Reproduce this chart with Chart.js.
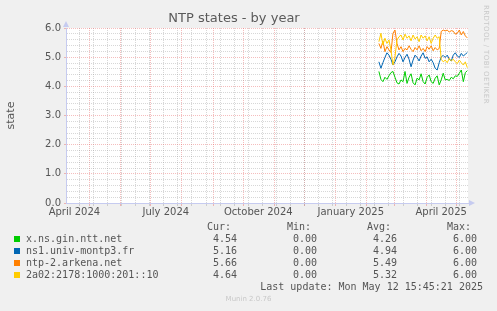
<!DOCTYPE html>
<html>
<head>
<meta charset="utf-8">
<script src="https://cdn.jsdelivr.net/npm/chart.js@4.4.1/dist/chart.umd.min.js"></script>
<style>
  body { margin: 0; background: #f0f0f0; }
  #wrap { position: relative; width: 497px; height: 311px; }
  #legend { position: absolute; left: 0; top: 0; font-family: "DejaVu Sans Mono", monospace; font-size: 10px; color: #555; }
  #legend div { position: absolute; white-space: pre; line-height: 12px; }
  .sw { position: absolute; width: 6px; height: 6px; }
  #rrd { position: absolute; left: 482px; top: 5px; font-family: "DejaVu Sans", sans-serif; font-size: 7px; color: #c8c8c8; writing-mode: vertical-rl; letter-spacing: 0.4px; }
  #munin { position: absolute; left: 0; width: 497px; top: 295px; text-align: center; font-family: "DejaVu Sans", sans-serif; font-size: 7px; color: #c8c8c8; }
</style>
</head>
<body>
<div id="wrap">
  <canvas id="ntpChart" width="497" height="311"></canvas>
  <div id="legend"></div>
  <div id="rrd">RRDTOOL / TOBI OETIKER</div>
  <div id="munin">Munin 2.0.76</div>
</div>
<script>
// graph window: 400 days ending at last update
const rangeStart = Date.UTC(2024, 3, 7, 15, 45);
const rangeDays = 400;
const firstSample = "2025-02-13";
const sampleStepDays = 2;

const seriesNames = ["x.ns.gin.ntt.net", "ns1.univ-montp3.fr", "ntp-2.arkena.net", "2a02:2178:1000:201::10"];
const seriesColors = ["#00cc00", "#0066b3", "#ff8000", "#ffcc00"];

const ginNtt = [4.51, 4.24, 4.16, 4.31, 4.24, 4.36, 4.47, 4.51, 4.31, 4.12, 4.08, 4.22, 4.16, 4.51, 4.10,
  4.31, 4.43, 4.12, 4.05, 4.28, 4.22, 4.43, 4.16, 4.08, 4.31, 4.39, 4.16, 4.10, 4.28, 4.36,
  4.05, 4.22, 4.45, 4.22, 4.24, 4.20, 4.31, 4.26, 4.36, 4.34, 4.45, 4.56, 4.16, 4.47, 4.54];
const univMontp3 = [4.84, 4.62, 4.81, 4.99, 5.15, 5.07, 4.93, 4.73, 4.84, 5.01, 5.13, 5.04, 4.84, 4.99, 5.10,
  4.93, 4.67, 4.90, 5.07, 4.99, 4.87, 5.04, 5.15, 4.96, 5.01, 4.84, 4.93, 4.81, 4.62, 4.56,
  4.81, 5.01, 5.06, 4.99, 5.07, 4.93, 4.87, 5.07, 5.15, 5.04, 4.99, 5.13, 5.04, 5.10, 5.16];
const arkena = [5.47, 5.30, 5.56, 5.19, 5.36, 5.25, 5.16, 5.82, 5.93, 5.47, 5.25, 5.36, 5.19, 5.30, 5.25,
  5.39, 5.27, 5.19, 5.33, 5.25, 5.39, 5.22, 5.30, 5.19, 5.36, 5.27, 5.39, 5.22, 5.33, 5.25,
  5.30, 5.88, 5.93, 5.90, 5.93, 5.86, 5.91, 5.89, 5.79, 5.82, 5.93, 5.76, 5.88, 5.73, 5.66];
const ipv6Peer = [5.53, 5.82, 5.42, 5.65, 5.47, 5.59, 5.25, 4.73, 5.01, 5.59, 5.70, 5.76, 5.59, 5.79, 5.65,
  5.73, 5.56, 5.76, 5.62, 5.70, 5.53, 5.76, 5.65, 5.73, 5.56, 5.70, 5.47, 5.65, 5.76, 5.65,
  5.70, 4.93, 4.84, 4.90, 4.81, 4.96, 4.87, 4.93, 4.84, 4.78, 4.90, 4.81, 4.73, 4.84, 4.64];

const legendCur = ["4.54", "5.16", "5.66", "4.64"];
const legendMin = ["0.00", "0.00", "0.00", "0.00"];
const legendAvg = ["4.26", "4.94", "5.49", "5.32"];
const legendMax = ["6.00", "6.00", "6.00", "6.00"];
const lastUpdate = "Last update: Mon May 12 15:45:21 2025";

const xLabelMonths = [[2024, 3, "April 2024"], [2024, 6, "July 2024"], [2024, 9, "October 2024"], [2025, 0, "January 2025"], [2025, 3, "April 2025"]];
const yTickLabels = ["0.0", "1.0", "2.0", "3.0", "4.0", "5.0", "6.0"];

const DAY = 86400000;
const dayOf = t => (t - rangeStart) / DAY;

// x ticks: month starts (major), every 2 weeks (minor), labels mid month
const xTicks = [];
for (let y = 2024, m = 4; y < 2025 || m <= 4; m++) {
  if (m > 11) { m = 0; y++; }
  xTicks.push({ value: dayOf(Date.UTC(y, m, 1)), kind: "major", lbl: "" });
}
for (let t = Date.UTC(2024, 3, 21); dayOf(t) <= rangeDays; t += 14 * DAY) {
  xTicks.push({ value: dayOf(t), kind: "minor", lbl: "" });
}
xLabelMonths.forEach(([y, m, txt]) => xTicks.push({ value: dayOf(Date.UTC(y, m, 16)), kind: "label", lbl: txt }));
xTicks.sort((a, b) => a.value - b.value);

const startDay = dayOf(Date.parse(firstSample + "T00:00:00Z"));
const toPoints = arr => arr.map((v, i) => ({ x: startDay + i * sampleStepDays, y: v }));
const allSeries = [ginNtt, univMontp3, arkena, ipv6Peer];

const majorCol = "rgba(230, 90, 90, 0.4)";
const minorCol = "rgba(140, 140, 140, 0.35)";
const axisCol = "#c6cbf0";

const plotBg = {
  id: "plotBg",
  beforeDraw(chart) {
    const { ctx, chartArea: a } = chart;
    ctx.save();
    ctx.fillStyle = "#ffffff";
    ctx.fillRect(a.left, a.top, a.right - a.left, a.bottom - a.top);
    ctx.restore();
  },
  afterDraw(chart) {
    const { ctx, chartArea: a } = chart;
    ctx.save();
    ctx.fillStyle = axisCol;
    ctx.beginPath();
    ctx.moveTo(a.left - 3, a.top - 1); ctx.lineTo(a.left + 3, a.top - 1); ctx.lineTo(a.left, a.top - 7);
    ctx.fill();
    ctx.beginPath();
    ctx.moveTo(a.right + 1, a.bottom - 3); ctx.lineTo(a.right + 1, a.bottom + 3); ctx.lineTo(a.right + 7, a.bottom);
    ctx.fill();
    ctx.restore();
  }
};

const ctx = document.getElementById("ntpChart").getContext("2d");
const ntpChart = new Chart(ctx, {
  type: "line",
  data: {
    datasets: allSeries.map((s, i) => ({
      label: seriesNames[i],
      data: toPoints(s),
      borderColor: seriesColors[i],
      borderWidth: 1,
      pointRadius: 0,
      tension: 0,
      fill: false,
      order: 3 - i,
    })),
  },
  options: {
    responsive: false,
    animation: false,
    layout: { padding: { left: 0, right: 29, top: 0, bottom: 0 } },
    plugins: {
      legend: { display: false },
      tooltip: { enabled: false },
      title: {
        display: true,
        text: "NTP states - by year",
        color: "#5a5a5a",
        font: { family: "DejaVu Sans", size: 13, weight: "normal", lineHeight: 1.2 },
        padding: { top: 11, bottom: 1.4 },
      },
    },
    scales: {
      x: {
        type: "linear",
        min: 0,
        max: rangeDays,
        afterFit: s => { s.height = 108; },
        afterBuildTicks: s => { s.ticks = xTicks.map(t => ({ ...t })); },
        ticks: {
          autoSkip: false,
          maxRotation: 0,
          padding: 0,
          color: "#555",
          font: { family: "DejaVu Sans", size: 10 },
          callback: (v, i, ticks) => ticks[i].lbl,
        },
        grid: {
          color: c => c.tick && c.tick.kind === "major" ? majorCol : (c.tick && c.tick.kind === "minor" ? minorCol : "transparent"),
          tickColor: c => c.tick && c.tick.kind === "major" ? majorCol : (c.tick && c.tick.kind === "minor" ? minorCol : "transparent"),
          tickLength: 3,
          lineWidth: 1,
        },
        border: { display: true, color: axisCol, width: 1, dash: [1, 1] },
      },
      y: {
        min: 0,
        max: 6,
        afterFit: s => { s.width = 66; },
        afterBuildTicks: s => {
          const t = [];
          for (let k = 0; k <= 30; k++) t.push({ value: k / 5 });
          s.ticks = t;
        },
        ticks: {
          autoSkip: false,
          padding: 3,
          color: "#555",
          font: { family: "DejaVu Sans", size: 10 },
          callback: (v, i) => (i % 5 === 0 ? yTickLabels[i / 5] : ""),
        },
        title: {
          display: true,
          text: "state",
          color: "#555",
          font: { family: "DejaVu Sans", size: 11 },
          padding: { top: 5, bottom: 0 },
        },
        grid: {
          color: c => c.index % 5 === 0 ? majorCol : minorCol,
          tickColor: c => c.index % 5 === 0 ? majorCol : "transparent",
          tickLength: 2,
          lineWidth: 1,
        },
        border: { display: true, color: axisCol, width: 1, dash: [1, 1] },
      },
    },
  },
  plugins: [plotBg],
});

// legend block below the graph
const legend = document.getElementById("legend");
function addText(txt, right, top) {
  const d = document.createElement("div");
  d.textContent = txt;
  d.style.right = (497 - right) + "px";
  d.style.top = top + "px";
  legend.appendChild(d);
  return d;
}
function addLeft(txt, left, top) {
  const d = document.createElement("div");
  d.textContent = txt;
  d.style.left = left + "px";
  d.style.top = top + "px";
  legend.appendChild(d);
}
legend.style.width = "497px";
addText("Cur:", 231, 221);
addText("Min:", 311, 221);
addText("Avg:", 391, 221);
addText("Max:", 471, 221);
seriesNames.forEach((n, i) => {
  const top = 233 + i * 12;
  const sw = document.createElement("span");
  sw.className = "sw";
  sw.style.left = "14px";
  sw.style.top = (top + 3) + "px";
  sw.style.background = seriesColors[i];
  legend.appendChild(sw);
  addLeft(n, 26, top);
  addText(legendCur[i], 237, top);
  addText(legendMin[i], 317, top);
  addText(legendAvg[i], 397, top);
  addText(legendMax[i], 477, top);
});
addText(lastUpdate, 483, 281);
</script>
</body>
</html>
